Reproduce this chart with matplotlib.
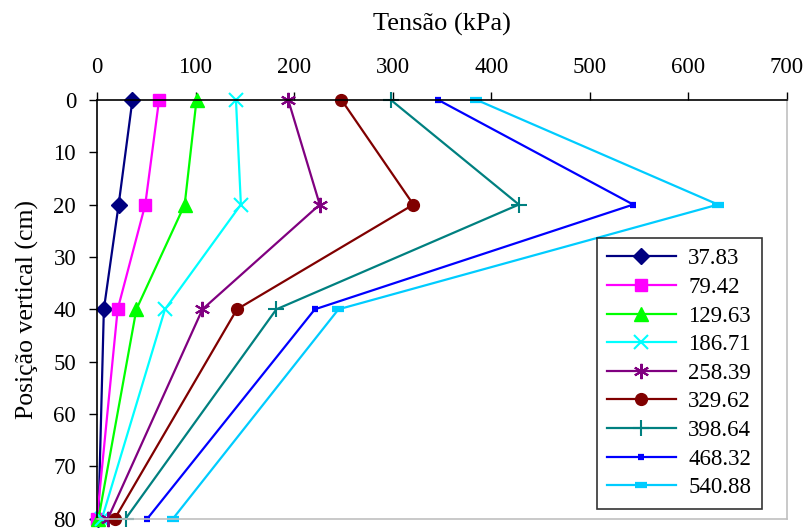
import numpy as np
import matplotlib
matplotlib.use("Agg")
import matplotlib.pyplot as plt

plt.rcParams['font.family'] = ['Liberation Serif', 'DejaVu Serif']

# profondeurs (cm) et tensions (kPa) pour chaque charge
depth = [0, 20, 40, 80]
labels = ["37.83", "79.42", "129.63", "186.71", "258.39",
          "329.62", "398.64", "468.32", "540.88"]
s1 = [36, 22, 7, 1.5]
s2 = [63, 49, 21, 0]
s3 = [101, 89, 40, 1.5]
s4 = [141, 146, 69, 5]
s5 = [194, 226, 107, 11]
s6 = [248, 321, 142, 18]
s7 = [298, 428, 182, 29]
s8 = [346, 544, 221, 51]
s9 = [385, 630, 245, 77]
series = [s1, s2, s3, s4, s5, s6, s7, s8, s9]

colors = ['#000080', '#FF00FF', '#00FF00', '#00FFFF', '#800080',
          '#800000', '#008080', '#0000FF', '#00CCFF']
markers = ['D', 's', '^', 'x', (6, 2, 0), 'o', '+', '_', '_']
msizes = [8, 8.5, 10, 10, 11, 8.5, 11, 5, 9]
mews = [1, 1, 1, 1.5, 1.5, 1, 1.5, 4.5, 4.5]

fig = plt.figure(figsize=(8.08, 5.31), dpi=100)
ax = fig.add_axes([0.12, 0.023, 0.854, 0.789])

for vals, lab, c, m, ms, mw in zip(series, labels, colors, markers, msizes, mews):
    ax.plot(vals, depth, color=c, marker=m, markersize=ms, markeredgewidth=mw,
            markerfacecolor=c, markeredgecolor=c, linewidth=1.6, label=lab,
            clip_on=False)

ax.set_xlim(0, 700)
ax.set_ylim(80, 0)
ax.set_xticks(np.arange(0, 701, 100))
ax.set_yticks(np.arange(0, 81, 10))
ax.xaxis.tick_top()
ax.xaxis.set_label_position('top')
ax.tick_params(axis='x', direction='out', length=6, width=1, pad=10, labelsize=16.5)
ax.tick_params(axis='y', direction='out', length=6, width=1, pad=9, labelsize=16.5)
for t in ax.get_yticklabels():
    t.set_verticalalignment('center_baseline')
ax.set_xlabel('Tensão (kPa)', fontsize=19, labelpad=19)
ax.set_ylabel('Posição vertical (cm)', fontsize=18.5, labelpad=10)

for s in ['top', 'left']:
    ax.spines[s].set_color('black')
    ax.spines[s].set_linewidth(1.2)
for s in ['right', 'bottom']:
    ax.spines[s].set_color('#C0C0C0')
    ax.spines[s].set_linewidth(1.2)

leg = ax.legend(loc='upper left', bbox_to_anchor=(0.724, 0.67), fontsize=16.5,
                frameon=True, fancybox=False, shadow=False, handlelength=3.0,
                labelspacing=0.33, borderpad=0.45, handletextpad=0.55,
                borderaxespad=0)
leg.get_frame().set_edgecolor('black')
leg.get_frame().set_linewidth(1.2)

fig.savefig('out.png', dpi=100)
